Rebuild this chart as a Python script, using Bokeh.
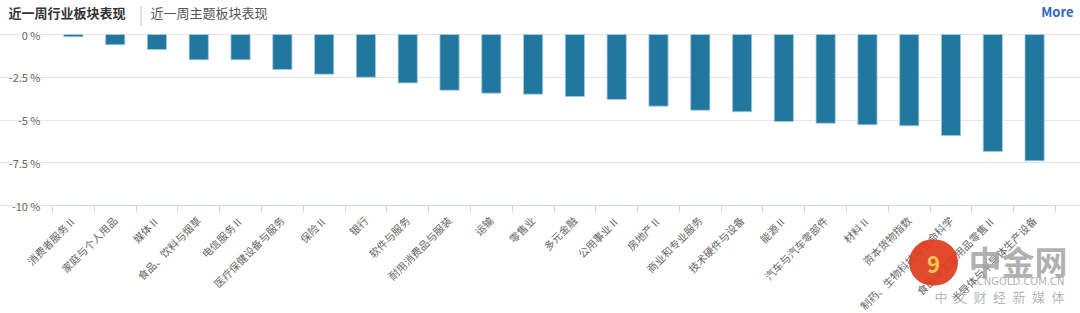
import math
from bokeh.plotting import figure
from bokeh.models import FixedTicker, Range1d, Label, ColumnDataSource
from bokeh.embed import file_html
from bokeh.resources import INLINE

categories = ["消费者服务Ⅱ", "家庭与个人用品", "媒体Ⅱ", "食品、饮料与烟草", "电信服务Ⅱ",
              "医疗保健设备与服务", "保险Ⅱ", "银行", "软件与服务", "耐用消费品与服装",
              "运输", "零售业", "多元金融", "公用事业Ⅱ", "房地产Ⅱ", "商业和专业服务",
              "技术硬件与设备", "能源Ⅱ", "汽车与汽车零部件", "材料Ⅱ", "资本货物指数",
              "制药、生物科技与生命科学", "食品与主要用品零售Ⅱ", "半导体与半导体生产设备"]
values = [-0.13, -0.60, -0.88, -1.48, -1.48, -2.05, -2.32, -2.50, -2.83, -3.26,
          -3.43, -3.49, -3.63, -3.80, -4.19, -4.43, -4.52, -5.09, -5.19, -5.28,
          -5.34, -5.91, -6.84, -7.39]
y_ticks = [0, -2.5, -5, -7.5, -10]
y_tick_labels = ["0 %", "-2.5 %", "-5 %", "-7.5 %", "-10 %"]
title_left = "近一周行业板块表现"
title_right = "近一周主题板块表现"
more_text = "More"

FONT = "Noto Sans CJK SC"
W, H = 1080, 313
n = len(categories)
idx = list(range(n))

# plotting region in pixels (the frame spans the whole canvas)
PL, PR, PT, PB = 52, 1055, 34, 205
px_per_cat = (PR - PL) / n
px_per_unit = (PB - PT) / (y_ticks[0] - y_ticks[-1])
x_lo = -0.5 - PL / px_per_cat
x_hi = n - 0.5 + (W - PR) / px_per_cat
y_hi = y_ticks[0] + PT / px_per_unit
y_lo = y_ticks[-1] - (H - PB) / px_per_unit

p = figure(width=W, height=H, output_backend="svg", toolbar_location=None,
           x_range=Range1d(x_lo, x_hi), y_range=Range1d(y_lo, y_hi),
           min_border=0)
p.outline_line_color = None
p.background_fill_color = "white"
p.border_fill_color = "white"

src = ColumnDataSource(dict(x=idx, v=values, z=[0] * n))
p.vbar(x="x", top="z", bottom="v", width=0.46, source=src,
       fill_color="#22779f", line_color="#a8cde0", line_width=0.8)

# x axis (drawn at the bottom value of the y scale)
xa = p.xaxis[0]
xa.fixed_location = y_ticks[-1]
xa.bounds = (-0.5, n - 0.5)
xa.ticker = FixedTicker(ticks=idx, minor_ticks=[i - 0.5 for i in range(n + 1)])
xa.major_label_overrides = {i: c for i, c in zip(idx, categories)}
xa.major_label_orientation = math.pi / 4
xa.major_tick_line_color = None
xa.major_tick_out = 0
xa.major_tick_in = 0
xa.minor_tick_line_color = "#ccd6eb"
xa.minor_tick_out = 7
xa.minor_tick_in = 0
xa.axis_line_color = "#ccd6eb"
xa.major_label_standoff = 6
xa.major_label_text_font = FONT
xa.major_label_text_font_size = "10.5px"
xa.major_label_text_color = "#666666"
p.xgrid.visible = False

# y axis
ya = p.yaxis[0]
ya.fixed_location = -0.5
ya.bounds = (y_ticks[-1], y_ticks[0])
ya.ticker = FixedTicker(ticks=y_ticks, minor_ticks=[])
ya.major_label_overrides = {t: s for t, s in zip(y_ticks, y_tick_labels)}
ya.axis_line_color = None
ya.major_tick_line_color = None
ya.major_tick_out = 0
ya.major_label_standoff = 12
ya.major_label_text_font = FONT
ya.major_label_text_font_size = "11px"
ya.major_label_text_color = "#666666"
p.ygrid.grid_line_color = "#e6e6e6"
p.ygrid.bounds = (-0.5, n - 0.5)


def lab(cx, cy, text, **kw):
    # cx, cy: pixel position from the top-left of the canvas
    p.add_layout(Label(x=cx, y=H - cy, x_units="screen", y_units="screen", text=text,
                       text_baseline="middle", **kw))


# header
lab(8, 12, title_left, text_font=FONT, text_font_size="13px", text_font_style="bold",
    text_color="#333333")
lab(138, 12, "|", text_font=FONT, text_font_size="18px", text_color="#d0d0d0")
lab(150, 12, title_right, text_font=FONT, text_font_size="13px", text_color="#555555")
lab(1073, 11, more_text, text_font=FONT, text_font_size="13px", text_font_style="bold",
    text_color="#3466c2", text_align="right")

# watermark
lab(933, 262, "\u20029\u2002", text_font=FONT, text_font_size="22px",
    text_font_style="bold", text_color="#f8c752", text_align="center",
    background_fill_color="#de3b1a", background_fill_alpha=0.92,
    padding=7, border_radius=24)
lab(968, 260, "中金网", text_font=FONT, text_font_size="33px", text_font_style="bold",
    text_color="#a3a3a3", text_alpha=0.85)
lab(1064, 281, "CNGOLD.COM.CN", text_font="DejaVu Sans", text_font_size="10px",
    text_color="#a3a3a3", text_alpha=0.85, text_align="right")
lab(1064, 296, "中\u2002文\u2002财\u2002经\u2002新\u2002媒\u2002体", text_font=FONT,
    text_font_size="13px", text_color="#a8a8a8", text_alpha=0.85, text_align="right")

open("out.html", "w").write(file_html(p, INLINE))
